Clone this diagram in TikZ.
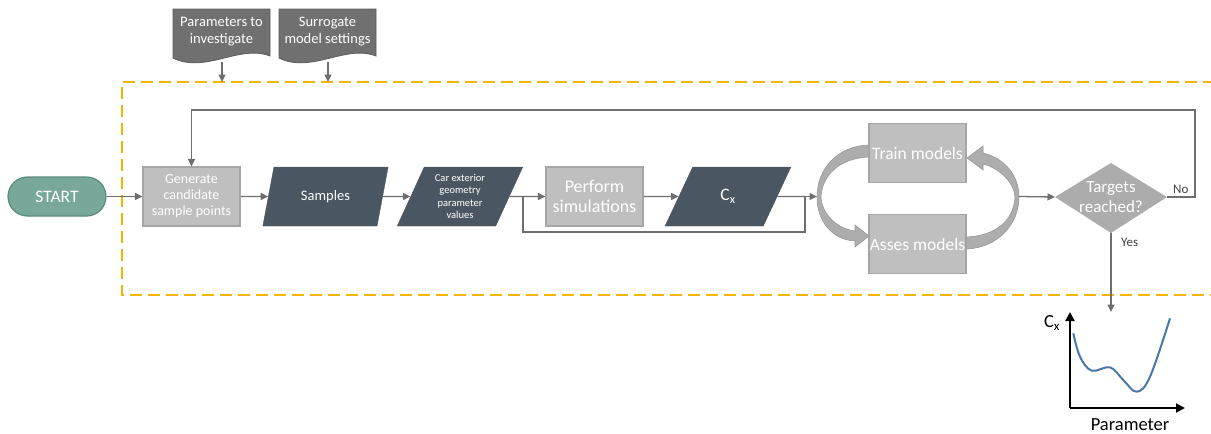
\documentclass[tikz,border=0pt]{standalone}
\usepackage{fontspec}
\setmainfont{Carlito}
\usetikzlibrary{shapes.geometric,shapes.misc,arrows.meta}
\definecolor{linegray}{HTML}{6E6E6E}
\definecolor{boxgray}{HTML}{BFBFBF}
\definecolor{boxborder}{HTML}{A6A6A6}
\definecolor{darkslate}{HTML}{4A5762}
\definecolor{docgray}{HTML}{707070}
\definecolor{docborder}{HTML}{5C5C5C}
\definecolor{startfill}{HTML}{78A89A}
\definecolor{startborder}{HTML}{5A8A7C}
\definecolor{gold}{HTML}{F5B400}
\definecolor{arcfill}{HTML}{ADADAD}
\definecolor{arcborder}{HTML}{989898}
\definecolor{curveblue}{HTML}{4A78A6}
\definecolor{labelgray}{HTML}{404040}
\tikzset{
  flow/.style={draw=linegray, line width=1.3pt, -{Triangle[length=7.5pt,width=7pt]}},
  plain/.style={draw=linegray, line width=1.3pt},
  lightbox/.style={rectangle, fill=boxgray, draw=boxborder, line width=1.2pt, text=white,
    minimum width=97pt, minimum height=59pt, inner sep=0pt, align=center},
  para/.style={trapezium, trapezium left angle=67, trapezium right angle=113,
    trapezium stretches=true, fill=darkslate, draw=darkslate, text=white,
    minimum width=126pt, minimum height=59pt, inner sep=0pt, align=center},
  doctext/.style={text=white, align=center, inner sep=0pt, font=\fontsize{14.5}{17}\selectfont},
  docshape/.style={fill=docgray, draw=docborder, line width=0.8pt},
  arc/.style={fill=arcfill, draw=arcborder, line width=0.6pt},
  smalllabel/.style={text=labelgray, font=\fontsize{13}{14}\selectfont, inner sep=0pt},
  axis/.style={draw=black, line width=2.2pt, -{Triangle[length=9pt,width=9pt]}},
}
\begin{document}
\begin{tikzpicture}[x=1pt,y=-1pt]
\useasboundingbox (0,0) rectangle (1211,434);

% dashed region
\draw[gold, line width=1.8pt, dash pattern=on 12pt off 6pt] (1215,82) -- (122,82) -- (122,295) -- (1215,295);

% documents
\draw[docshape] (173,58) -- (173,9) -- (270,9) -- (270,56) .. controls (240,44) and (205,74) .. cycle;
\node[doctext] (par) at (221.5,32) {Parameters to\\investigate};
\coordinate (parb) at (222,62);
\draw[docshape] (279,58) -- (279,9) -- (376,9) -- (376,56) .. controls (346,44) and (311,74) .. cycle;
\node[doctext] (sur) at (327.5,32) {Surrogate\\model settings};
\coordinate (surb) at (328,62);
\coordinate (parin) at (222,82);
\coordinate (surin) at (328,82);
\draw[flow] (parb) -- (parin);
\draw[flow] (surb) -- (surin);

% nodes
\node[rounded rectangle, fill=startfill, draw=startborder, line width=1.2pt, text=white,
  minimum width=98pt, minimum height=39pt, inner sep=0pt, font=\fontsize{17.5}{20}\selectfont]
  (start) at (57,196.5) {START};
\node[lightbox, font=\fontsize{14}{16}\selectfont] (gen) at (191.5,196.5) {Generate\\candidate\\sample points};
\node[para, font=\fontsize{14.5}{16}\selectfont] (samp) at (325.5,196.5) {Samples};
\node[para, font=\fontsize{10.5}{12.5}\selectfont] (car) at (460,196.5) {Car exterior\\geometry\\parameter\\values};
\node[lightbox, font=\fontsize{18}{20}\selectfont] (perf) at (594.5,196.5) {Perform\\simulations};
\node[para, font=\fontsize{17.5}{20}\selectfont] (cx) at (728,196.5) {C\textsubscript{x}};
\node[lightbox, font=\fontsize{17.5}{20}\selectfont] (train) at (917.5,153) {Train models};
\node[lightbox, font=\fontsize{17.5}{20}\selectfont] (asses) at (917.5,244) {Asses models};

% diamond
\coordinate (dl) at (1055,197);
\coordinate (dt) at (1111,163);
\coordinate (dr) at (1167,197);
\coordinate (db) at (1111,233);
\fill[boxgray!90!black] (dl) -- (dt) -- (dr) -- (db) -- cycle;
\node[text=white, align=center, inner sep=0pt, font=\fontsize{17}{20}\selectfont] (tgt) at (1111,197) {Targets\\reached?};

% curved block arrows
\draw[arc] (869,145) .. controls (836,146) and (817,170) .. (817,197)
  .. controls (817,222) and (833,240) .. (855,241) -- (855,247) -- (869,236) -- (855,225) -- (855,231)
  .. controls (838,229) and (822,215) .. (821,197) .. controls (822,175) and (840,158) .. (869,157) -- cycle;
\draw[arc] (966,249) .. controls (998,248) and (1019,224) .. (1019,197)
  .. controls (1019,175) and (1004,158) .. (983,153) -- (983,146) -- (967,158) -- (983,170) -- (983,164)
  .. controls (999,168) and (1014,182) .. (1015,197) .. controls (1014,220) and (996,236) .. (966,237) -- cycle;
\coordinate (lc) at (817,196.5);
\coordinate (rc) at (1019,196.5);

% connectors
\draw[flow] (start.east) -- (gen.west);
\draw[flow] (gen.east) -- (samp.west);
\draw[flow] (samp.east) -- (car.west);
\draw[flow] (car.east) -- (perf.west);
\draw[flow] (perf.east) -- (cx.west);
\coordinate (bsplit) at (523,196.5);
\coordinate (bjoin) at (805,196.5);
\draw[plain] (bsplit) -- (523,232) -- (805,232) -- (bjoin);
\draw[plain] (cx.east) -- (bjoin);
\draw[flow] (bjoin) -- (lc);
\draw[flow] (rc) -- (dl);
\draw[flow] (dr) -- (1195,197) -- (1195,110) -- (gen.north |- 0,110) -- (gen.north);
\coordinate (plottop) at (1111,312);
\draw[flow] (db) -- (plottop);
\node[smalllabel, anchor=south west] (no) at (1173,194) {No};
\node[smalllabel, anchor=north west] (yes) at (1121,238) {Yes};

% plot
\coordinate (o) at (1070,408);
\coordinate (ytip) at (1070,312);
\coordinate (xtip) at (1185,408);
\draw[axis] (o) -- (ytip);
\draw[axis] (o) -- (xtip);
\node[font=\fontsize{18.5}{20}\selectfont, inner sep=0pt] (cxl) at (1052,323) {C\textsubscript{x}};
\node[font=\fontsize{18.5}{20}\selectfont, inner sep=0pt] (parl) at (1130,425) {Parameter};
\draw[curveblue, line width=2pt] plot[smooth, tension=0.6] coordinates
  {(1073.3,333.3) (1080,356.7) (1091.7,370.7) (1110,367.3) (1123.3,380) (1136.7,391.7) (1150,376.7) (1170,318.3)};
\end{tikzpicture}
\end{document}
